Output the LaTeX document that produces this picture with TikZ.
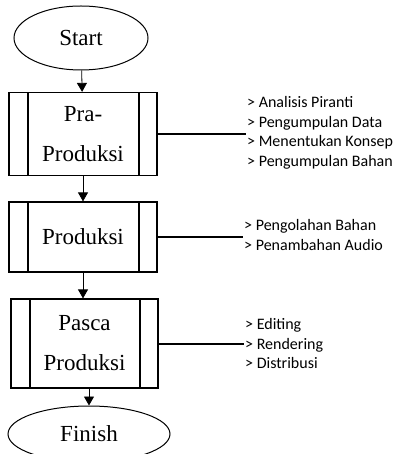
\documentclass[tikz,border=0pt]{standalone}
\usepackage{fontspec}
\setmainfont{Liberation Serif}
\newfontfamily\listfont{Carlito}
\usetikzlibrary{arrows.meta,shapes.geometric}

\begin{document}
\begin{tikzpicture}[x=1pt,y=-1pt]
	\tikzset{terminal/.style={draw, ellipse, line width=1pt, inner sep=0pt, font=\fontsize{23}{40}\selectfont}}
	\tikzset{proses/.style={draw, rectangle, line width=1.2pt, minimum width=148pt, inner sep=0pt, align=center,
		font=\fontsize{23}{40}\selectfont,
		path picture={\draw[line width=1.2pt] ([xshift=19pt]path picture bounding box.north west) -- ([xshift=19pt]path picture bounding box.south west);
			\draw[line width=1.2pt] ([xshift=-18pt]path picture bounding box.north east) -- ([xshift=-18pt]path picture bounding box.south east);}}}
	\tikzset{daftar/.style={anchor=west, align=left, inner sep=1pt, font=\listfont\fontsize{16}{19.5}\selectfont}}
	\tikzset{panah/.style={-{Triangle[length=9pt,width=10pt]}, line width=0.8pt}}
	\tikzset{garis/.style={line width=2pt}}
	\useasboundingbox (0,0) rectangle (398,454);
	\node[terminal, minimum width=134pt, minimum height=64pt] (start) at (81,38) {Start};
	\node[proses, minimum height=83pt] (pra) at (83,134) {Pra-\\Produksi};
	\node[proses, minimum height=70pt] (produksi) at (83,237) {Produksi};
	\node[proses, minimum width=147pt, minimum height=89pt] (pasca) at (84.5,343.5) {Pasca\\Produksi};
	\node[terminal, minimum width=162pt, minimum height=56pt] (finish) at (89,434) {Finish};
	% keterangan tiap tahap
	\node[daftar] (pralist) at (246,133) {> Analisis Piranti\\> Pengumpulan Data\\> Menentukan Konsep\\> Pengumpulan Bahan};
	\node[daftar] (produksilist) at (243,235) {> Pengolahan Bahan\\> Penambahan Audio};
	\node[daftar] (pascalist) at (244,344) {> Editing\\> Rendering\\> Distribusi};
	\draw[panah] (start) -- (pra);
	\draw[panah] (pra) -- (produksi);
	\draw[panah] (produksi) -- (produksi |- pasca.north);
	\draw[panah] (pasca.south -| finish) -- (finish);
	\draw[garis] (pra.east) -- (pra.east -| pralist.west);
	\draw[garis] (produksi.east) -- (produksi.east -| produksilist.west);
	\draw[garis] (pasca.east) -- (pasca.east -| pascalist.west);
\end{tikzpicture}
\end{document}
